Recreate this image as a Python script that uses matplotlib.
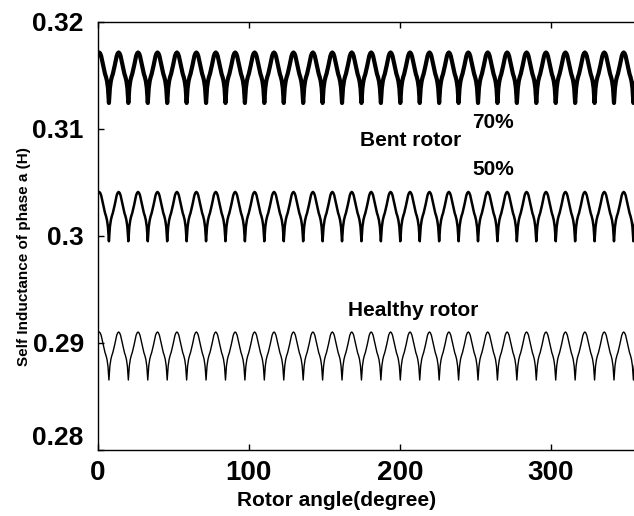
import numpy as np
import matplotlib
matplotlib.use("Agg")
import matplotlib.pyplot as plt

# one period of each curve (H), sampled every 1/20 of a slot pitch, starting at the peak
bent_70 = [0.31715, 0.31706, 0.31682, 0.31640, 0.31594, 0.31552, 0.31514, 0.31486,
           0.31448, 0.31383, 0.31243, 0.31383, 0.31448, 0.31486, 0.31514, 0.31552,
           0.31594, 0.31640, 0.31682, 0.31706]
bent_50 = [0.30412, 0.30403, 0.30380, 0.30338, 0.30292, 0.30251, 0.30214, 0.30186,
           0.30148, 0.30085, 0.29951, 0.30085, 0.30148, 0.30186, 0.30214, 0.30251,
           0.30292, 0.30338, 0.30380, 0.30403]
healthy = [0.29103, 0.29094, 0.29072, 0.29031, 0.28986, 0.28946, 0.28910, 0.28883,
           0.28847, 0.28785, 0.28654, 0.28785, 0.28847, 0.28883, 0.28910, 0.28946,
           0.28986, 0.29031, 0.29072, 0.29094]

n_periods = 28          # periods per revolution
phase_deg = 1.0         # angle of the first peak
x_ticks = [0, 100, 200, 300]
y_ticks = [0.28, 0.29, 0.30, 0.31, 0.32]
y_tick_labels = ["0.28", "0.29", "0.3", "0.31", "0.32"]

plt.rcParams["font.family"] = ["Liberation Sans", "DejaVu Sans"]
plt.rcParams["font.weight"] = "bold"

fig = plt.figure(figsize=(6.34, 5.16), dpi=100)
ax = fig.add_axes([0.1541, 0.1279, 0.8460, 0.8295])

pitch = 360.0 / n_periods
n_rep = n_periods + 2
for vals, lw in [(bent_70, 3.0), (bent_50, 1.8), (healthy, 1.0)]:
    y = np.tile(vals, n_rep)
    x = phase_deg - pitch + np.arange(len(y)) * pitch / len(vals)
    ax.plot(x, y, color="black", lw=lw)

ax.set_xlim(0, 355)
ax.set_ylim(0.28, 0.32)
ax.set_xticks(x_ticks)
ax.set_yticks(y_ticks)
ax.set_yticklabels(y_tick_labels)
ax.tick_params(direction="in", top=True, right=False, length=4, width=1)
ax.tick_params(axis="x", labelsize=20, pad=7)
ax.tick_params(axis="y", labelsize=19, pad=10)
for lab in ax.get_xticklabels() + ax.get_yticklabels():
    lab.set_fontweight("bold")
ax.get_yticklabels()[0].set_va("bottom")
ax.spines["right"].set_visible(False)
for s in ["left", "bottom", "top"]:
    ax.spines[s].set_linewidth(1.0)

ax.set_xlabel("Rotor angle(degree)", fontsize=15, fontweight="bold")
ax.xaxis.set_label_coords(0.445, -0.117)
ax.xaxis.label.set_va("center")
ax.set_ylabel("Self Inductance of phase a (H)", fontsize=11, fontweight="bold")
ax.yaxis.set_label_coords(-0.1375, 0.451)
ax.yaxis.label.set_va("center")

ax.text(206.8, 0.30888, "Bent rotor", fontsize=15, fontweight="bold",
        ha="center", va="center")
ax.text(261.8, 0.31065, "70%", fontsize=15, fontweight="bold",
        ha="center", va="center")
ax.text(261.8, 0.30617, "50%", fontsize=15, fontweight="bold",
        ha="center", va="center")
ax.text(209, 0.29308, "Healthy rotor", fontsize=15, fontweight="bold",
        ha="center", va="center")

fig.savefig("out.png", dpi=100)
